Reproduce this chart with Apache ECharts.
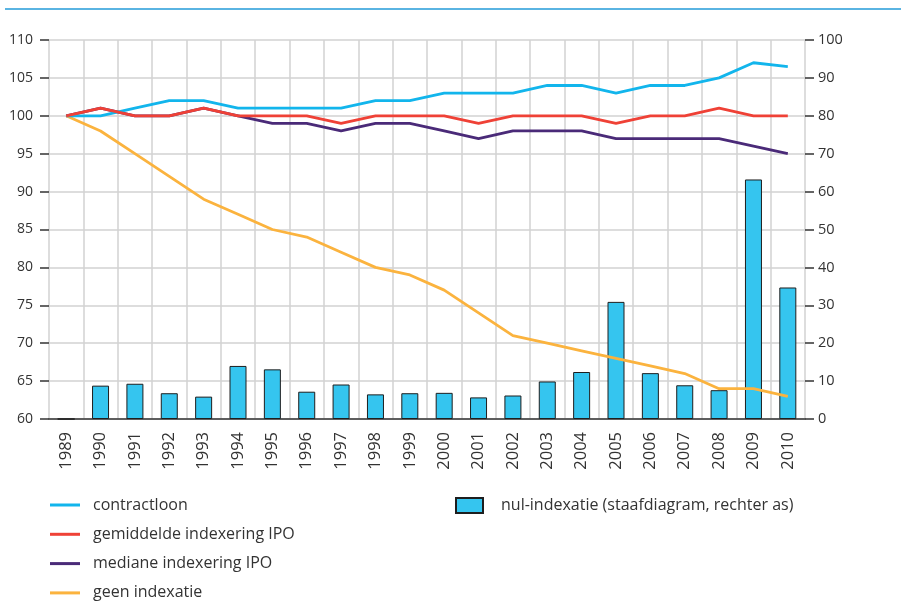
<!DOCTYPE html>
<html>
<head>
<meta charset="utf-8">
<script src="https://cdn.jsdelivr.net/npm/echarts@6/dist/echarts.min.js"></script>
<style>
  html, body { margin: 0; padding: 0; background: #fff; }
  #chart { width: 906px; height: 604px; }
</style>
</head>
<body>
<div id="chart"></div>
<script>
var jaren = ['1989','1990','1991','1992','1993','1994','1995','1996','1997','1998','1999',
             '2000','2001','2002','2003','2004','2005','2006','2007','2008','2009','2010'];

var contractloon = [100,100,101,102,102,101,101,101,101,102,102,103,103,103,104,104,103,104,104,105,107,106.5];
var gemiddelde   = [100,101,100,100,101,100,100,100,99,100,100,100,99,100,100,100,99,100,100,101,100,100];
var mediane      = [100,101,100,100,101,100,99,99,98,99,99,98,97,98,98,98,97,97,97,97,96,95];
var geenIndex    = [100,98,95,92,89,87,85,84,82,80,79,77,74,71,70,69,68,67,66,64,64,63];
var nulIndexatie = [0,8.8,9.3,6.8,5.9,14,13.1,7.2,9.1,6.5,6.8,6.9,5.7,6.2,9.9,12.4,30.9,12.1,8.9,7.6,63.2,34.7];

var linksTicks = { min: 60, max: 110, interval: 5 };
var rechtsTicks = { min: 0, max: 100, interval: 10 };

var font = 'Open Sans';
var myChart = echarts.init(document.getElementById('chart'));

option = {
    backgroundColor: '#fff',
    textStyle: { fontFamily: font },
    graphic: [{
        type: 'line',
        shape: { x1: 5, y1: 9, x2: 901, y2: 9 },
        style: { stroke: '#5ab4e2', lineWidth: 2 }
    }],
    grid: { left: 49, right: 101, top: 40, bottom: 185 },
    legend: [{
        orient: 'vertical',
        left: 45,
        top: 492,
        height: 120,
        icon: 'rect',
        itemWidth: 30,
        itemHeight: 3,
        itemGap: 13.3,
        textStyle: { fontSize: 16, color: '#333', lineHeight: 16, padding: [0, 0, 0, 8] },
        data: ['contractloon', 'gemiddelde indexering IPO', 'mediane indexering IPO', 'geen indexatie']
    }, {
        left: 450,
        top: 492,
        icon: 'rect',
        itemWidth: 27,
        itemHeight: 15,
        textStyle: { fontSize: 16, color: '#333', lineHeight: 16, padding: [0, 0, 0, 13] },
        data: ['nul-indexatie (staafdiagram, rechter as)']
    }],
    xAxis: {
        type: 'category',
        data: jaren,
        boundaryGap: true,
        axisLine: { lineStyle: { color: '#333', width: 1.5 } },
        axisTick: { alignWithLabel: true, length: 7, lineStyle: { color: '#333', width: 1.5 } },
        axisLabel: { rotate: 90, fontSize: 16.5, color: '#333', margin: 13 },
        splitLine: { show: true, lineStyle: { color: '#d2d2d2', width: 1.5 } }
    },
    yAxis: [{
        type: 'value',
        min: linksTicks.min,
        max: linksTicks.max,
        interval: linksTicks.interval,
        axisLine: { show: false },
        axisTick: { show: true, length: 9, lineStyle: { color: '#333', width: 1.5 } },
        axisLabel: { fontSize: 14, color: '#333', margin: 16 },
        splitLine: { lineStyle: { color: '#d2d2d2', width: 1.5 } }
    }, {
        type: 'value',
        min: rechtsTicks.min,
        max: rechtsTicks.max,
        interval: rechtsTicks.interval,
        position: 'right',
        axisLine: { show: false },
        axisTick: { show: true, length: 9, lineStyle: { color: '#333', width: 1.5 } },
        axisLabel: { fontSize: 14.5, color: '#333', margin: 13 },
        splitLine: { show: false }
    }],
    series: [
        {
            name: 'nul-indexatie (staafdiagram, rechter as)',
            type: 'bar',
            yAxisIndex: 1,
            barWidth: 17,
            data: nulIndexatie,
            itemStyle: { color: '#35c5ef', borderColor: '#1e1e1e', borderWidth: 1 }
        },
        {
            name: 'geen indexatie',
            type: 'line',
            data: geenIndex,
            symbol: 'none',
            color: '#fbb33e',
            lineStyle: { width: 2.8 }
        },
        {
            name: 'mediane indexering IPO',
            type: 'line',
            data: mediane,
            symbol: 'none',
            color: '#4a2a78',
            lineStyle: { width: 2.8 }
        },
        {
            name: 'contractloon',
            type: 'line',
            data: contractloon,
            symbol: 'none',
            color: '#12b5ec',
            lineStyle: { width: 2.8 }
        },
        {
            name: 'gemiddelde indexering IPO',
            type: 'line',
            data: gemiddelde,
            symbol: 'none',
            color: '#ef4136',
            lineStyle: { width: 2.8 }
        }
    ]
};

myChart.setOption(option);
</script>
</body>
</html>
